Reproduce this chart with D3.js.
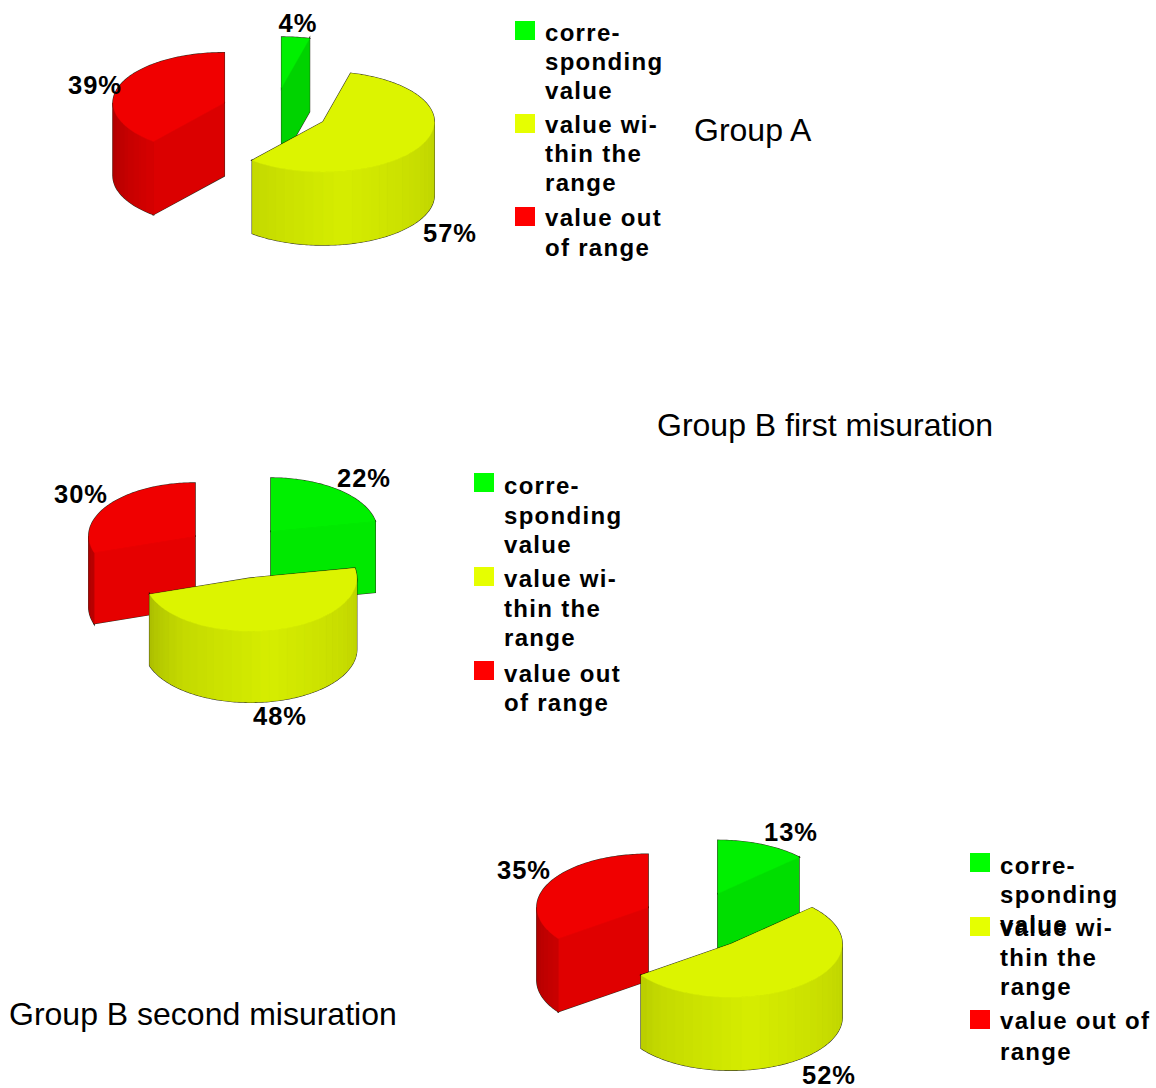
<!DOCTYPE html>
<html>
<head>
<meta charset="utf-8">
<script src="https://cdn.jsdelivr.net/npm/d3@7"></script>
<style>
    body { margin: 0; background: #fff; }
    svg { display: block; }
    text { font-family: "Liberation Sans", Arial, sans-serif; fill: #000; }
    .pct { font-weight: bold; font-size: 25.5px; letter-spacing: 1px; }
    .legend-line { font-weight: bold; font-size: 24px; letter-spacing: 1.3px; }
    .title { font-size: 32px; }
</style>
</head>
<body>
<svg id="chart" width="1156" height="1088"></svg>
<script>
// data for the three pies
const categories = ["corresponding value", "value within the range", "value out of range"];
const groupAValues = [4, 57, 39];
const groupBFirstValues = [22, 48, 30];
const groupBSecondValues = [13, 52, 35];

const topColors = ["#00f000", "#dcf400", "#f00000"];
const legendColors = ["#00ff00", "#e6ff00", "#ff0000"];

// legend wording with its line breaks
const legendLinesShort = [["corre-", "sponding", "value"], ["value wi-", "thin the", "range"], ["value out", "of range"]];
const legendLinesWide = [["corre-", "sponding", "value"], ["value wi-", "thin the", "range"], ["value out of", "range"]];

// where each pie goes on the page
const pies = [
    {
        title: "Group A", titleX: 694, titleY: 141,
        values: groupAValues,
        cx: 275, cy: 111, rx: 111, ry: 50, depth: 73, ex: 54, ey: 24,
        labelPos: [[298, 32], [450, 242], [95, 94]],
        legendX: 515,
        legendLines: legendLinesShort,
        swatchY: [21, 114, 207],
        lineY: [[41, 70, 99], [133, 162, 191], [226, 256]],
    },
    {
        title: "Group B first misuration", titleX: 657, titleY: 436,
        values: groupBFirstValues,
        cx: 237.5, cy: 552, rx: 106, ry: 53, depth: 71, ex: 52.6, ey: 27,
        labelPos: [[364, 487], [280, 725], [81, 503]],
        legendX: 474,
        legendLines: legendLinesShort,
        swatchY: [473, 567, 661],
        lineY: [[494, 524, 553], [587, 617, 646], [682, 711]],
    },
    {
        title: "Group B second misuration", titleX: 9, titleY: 1025,
        values: groupBSecondValues,
        cx: 696.4, cy: 921, rx: 111, ry: 53, depth: 73, ex: 54.3, ey: 30,
        labelPos: [[791, 841], [829, 1084], [524, 879]],
        legendX: 970,
        legendLines: legendLinesWide,
        swatchY: [853, 917, 1010],
        lineY: [[874, 903, 933], [936, 966, 995], [1029, 1060]],
    },
];

const svg = d3.select("#chart");
const toRad = Math.PI / 180;
const lineGen = d3.line();

// pie layout starts at 12 o'clock and keeps the data order
const pieLayout = d3.pie().sort(null).value((d) => d);

// brightness of a side surface, by the direction it faces (degrees clockwise from 12 o'clock)
const shade = d3.scaleLinear()
    .domain([90, 170, 220, 270])
    .range([0.86, 0.97, 0.89, 0.72])
    .clamp(true);

function shaded(color, angle) {
    let c = d3.rgb(color);
    let k = shade(angle / toRad);
    return d3.rgb(c.r * k, c.g * k, c.b * k).formatHex();
}

function arcSamples(a0, a1) {
    return d3.range(a0, a1, 0.02).concat([a1]);
}

pies.forEach((p) => {
    let slices = pieLayout(p.values).map((s, i) => {
        // each slice is pushed out along its own middle angle
        let mid = (s.startAngle + s.endAngle) / 2;
        return {
            ...s,
            color: topColors[i],
            ax: p.cx + p.ex * Math.sin(mid),
            ay: p.cy - p.ey * Math.cos(mid),
        };
    });

    // slices further back get drawn first
    slices.slice().sort((a, b) => d3.ascending(a.ay, b.ay)).forEach((s) => {
        let rimX = (a) => s.ax + p.rx * Math.sin(a);
        let rimY = (a) => s.ay - p.ry * Math.cos(a);
        let shapes = [];
        let edges = [];

        // flat faces where the slice was cut, only the ones facing the viewer
        let addCut = (a, normal) => {
            let d = lineGen([
                [s.ax, s.ay], [rimX(a), rimY(a)],
                [rimX(a), rimY(a) + p.depth], [s.ax, s.ay + p.depth],
            ]) + "Z";
            shapes.push({ d: d, fill: shaded(s.color, normal) });
            edges.push(d);
        };
        if (Math.sin(s.startAngle) < -0.001) addCut(s.startAngle, s.startAngle - Math.PI / 2);
        if (Math.sin(s.endAngle) > 0.001) addCut(s.endAngle, s.endAngle + Math.PI / 2);

        // curved wall in narrow vertical bands
        let wall = d3.area()
            .x((a) => rimX(a))
            .y0((a) => rimY(a))
            .y1((a) => rimY(a) + p.depth);
        let from = Math.max(s.startAngle, Math.PI / 2);
        let to = Math.min(s.endAngle, 3 * Math.PI / 2);
        if (to > from) {
            edges.push(wall(arcSamples(from, to)) + "Z");
            let step = 5 * toRad;
            d3.range(from, to, step).forEach((a) => {
                let end = Math.min(a + step, to);
                shapes.push({
                    d: wall(arcSamples(a, end)) + "Z",
                    fill: shaded(s.color, (a + end) / 2),
                });
            });
        }

        // top face
        let topFace = lineGen([[s.ax, s.ay]].concat(arcSamples(s.startAngle, s.endAngle).map((a) => [rimX(a), rimY(a)]))) + "Z";
        shapes.push({ d: topFace, fill: s.color });
        edges.push(topFace);

        let g = svg.append("g");

        // dark edge first, fills on top, so that only the outer silhouette keeps a line.
        // the edge shapes are filled too, which stops it showing through between wall bands
        g.selectAll("path.edge")
            .data(edges)
            .enter()
            .append("path")
            .attr("class", "edge")
            .attr("d", (d) => d)
            .attr("fill", shaded(s.color, Math.PI))
            .attr("stroke", "#101000")
            .attr("stroke-opacity", 0.85)
            .attr("stroke-width", 1.7);

        // stroke line again over neighbouring fills would cut the silhouette, so inner shapes go on a clean base
        g.selectAll("path.base")
            .data(edges)
            .enter()
            .append("path")
            .attr("class", "base")
            .attr("d", (d) => d)
            .attr("fill", shaded(s.color, Math.PI));

        g.selectAll("path.fill")
            .data(shapes)
            .enter()
            .append("path")
            .attr("class", "fill")
            .attr("d", (d) => d.d)
            .attr("fill", (d) => d.fill)
            .attr("stroke", (d) => d.fill)
            .attr("stroke-width", 0.5);
    });

    // percent labels
    svg.selectAll(null)
        .data(p.values)
        .enter()
        .append("text")
        .attr("class", "pct")
        .attr("text-anchor", "middle")
        .attr("x", (d, i) => p.labelPos[i][0])
        .attr("y", (d, i) => p.labelPos[i][1])
        .text((d) => d + "%");

    // legend
    let legend = svg.selectAll(null)
        .data(categories)
        .enter()
        .append("g");

    legend.append("rect")
        .attr("x", p.legendX)
        .attr("y", (d, i) => p.swatchY[i])
        .attr("width", 20)
        .attr("height", 19)
        .attr("fill", (d, i) => legendColors[i]);

    legend.each(function (d, i) {
        d3.select(this)
            .selectAll("text")
            .data(p.legendLines[i])
            .enter()
            .append("text")
            .attr("class", "legend-line")
            .attr("x", p.legendX + 30)
            .attr("y", (line, j) => p.lineY[i][j])
            .text((line) => line);
    });

    svg.append("text")
        .attr("class", "title")
        .attr("x", p.titleX)
        .attr("y", p.titleY)
        .text(p.title);
});
</script>
</body>
</html>
